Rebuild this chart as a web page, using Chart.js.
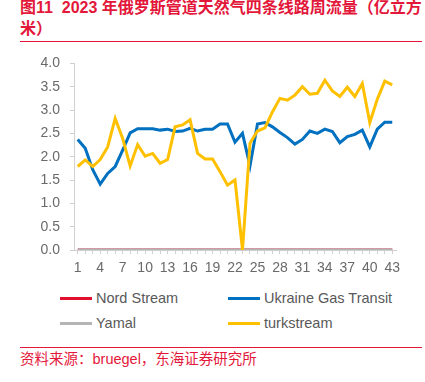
<!DOCTYPE html>
<html>
<head>
<meta charset="utf-8">
<script src="https://cdn.jsdelivr.net/npm/chart.js@4/dist/chart.umd.min.js"></script>
<style>
  html, body { margin:0; padding:0; background:#fff; }
  body { width:425px; height:382px; position:relative; overflow:hidden;
         font-family:"Liberation Sans","Noto Sans CJK SC",sans-serif; }
  #title { position:absolute; left:20px; top:-3px; width:410px; color:#e3173a;
           font-weight:bold; font-size:16px; line-height:21px; white-space:nowrap;
           font-family:"Liberation Sans","Noto Sans CJK SC",sans-serif; }
  #titleRule { position:absolute; left:20px; top:41px; width:402px; height:0;
               border-top:1.5px solid #e3173a; }
  #chartBox { position:absolute; left:0; top:45px; width:425px; height:235px; }
  #legend { position:absolute; left:0; top:0; width:425px; height:0; }
  .lg { position:absolute; font-size:14.5px; color:#595959; line-height:16px; white-space:nowrap; }
  .lg i { position:absolute; top:7px; width:32px; height:3px; }
  .lg span { position:absolute; left:36px; top:0; }
  #srcRule { position:absolute; left:20px; top:347px; width:402px; height:0;
             border-top:1.5px solid #e3173a; }
  #source { position:absolute; left:20px; top:350px; color:#e3173a; font-size:14.5px;
            line-height:18px; white-space:nowrap;
            font-family:"Liberation Sans","Noto Sans CJK SC",sans-serif; }
</style>
</head>
<body>
<div id="title">图11&nbsp;&nbsp;2023 年俄罗斯管道天然气四条线路周流量（亿立方<br>米）</div>
<div id="titleRule"></div>
<div id="chartBox"><canvas id="c"></canvas></div>
<div id="legend"></div>
<div id="srcRule"></div>
<div id="source">资料来源：bruegel，东海证券研究所</div>
<script>
// ---- data ----
const weeks = Array.from({length: 43}, (_, i) => String(i + 1));
const seriesNames = ["Nord Stream", "Ukraine Gas Transit", "Yamal", "turkstream"];
const nordStream = new Array(43).fill(0);
const yamal = new Array(43).fill(0);
const ukraine = [2.37, 2.18, 1.72, 1.41, 1.64, 1.79, 2.14, 2.51, 2.60, 2.60,
                 2.60, 2.57, 2.59, 2.54, 2.55, 2.61, 2.55, 2.59, 2.59, 2.70,
                 2.70, 2.31, 2.50, 1.80, 2.70, 2.73, 2.64, 2.52, 2.41, 2.27,
                 2.37, 2.55, 2.50, 2.59, 2.54, 2.30, 2.43, 2.48, 2.57, 2.21,
                 2.59, 2.74, 2.74];
const turkstream = [1.79, 1.93, 1.79, 1.94, 2.21, 2.82, 2.39, 1.80, 2.26, 2.01,
                    2.07, 1.86, 1.94, 2.64, 2.68, 2.79, 2.07, 1.95, 1.95, 1.68,
                    1.39, 1.50, 0.00, 2.29, 2.55, 2.62, 2.96, 3.25, 3.21, 3.32,
                    3.50, 3.34, 3.36, 3.64, 3.41, 3.29, 3.49, 3.29, 3.57, 2.73,
                    3.23, 3.62, 3.54];
const yTicks = [0, 0.5, 1.0, 1.5, 2.0, 2.5, 3.0, 3.5, 4.0];
const colors = ["#e0102f", "#0070c0", "#b4b4b4", "#ffc000"];

const values = [nordStream, ukraine, yamal, turkstream];
const orders = [4, 3, 2, 1];

const datasets = seriesNames.map((name, i) => ({
  label: name,
  data: values[i],
  borderColor: colors[i],
  backgroundColor: colors[i],
  borderWidth: 3,
  pointRadius: 0,
  tension: 0,
  order: orders[i]
}));

const gray = "#6a6a6a";
new Chart(document.getElementById("c"), {
  type: "line",
  data: { labels: weeks, datasets },
  options: {
    responsive: true,
    maintainAspectRatio: false,
    animation: false,
    layout: { padding: { top: 0, right: 29, bottom: 0, left: 0 } },
    plugins: { legend: { display: false }, tooltip: { enabled: false } },
    scales: {
      x: {
        offset: true,
        grid: { display: true, drawOnChartArea: false, drawTicks: true, tickLength: 4, color: "#d0d0d0" },
        border: { display: true, color: "#d0d0d0", width: 1 },
        ticks: {
          autoSkip: false, maxRotation: 0, minRotation: 0, padding: 6,
          color: gray, font: { family: "Liberation Sans", size: 14 },
          callback: (v, i) => (i % 3 === 0 ? weeks[i] : "")
        },
        afterFit: s => { s.height = 30; }
      },
      y: {
        min: 0, max: 4,
        afterBuildTicks: s => { s.ticks = yTicks.map(v => ({ value: v })); },
        grid: { display: true, drawOnChartArea: false, drawTicks: true, tickLength: 4, color: "#d0d0d0" },
        border: { display: true, color: "#d0d0d0", width: 1 },
        ticks: {
          padding: 10, color: gray, font: { family: "Liberation Sans", size: 14 },
          callback: v => Number(v).toFixed(1)
        },
        afterFit: s => { s.width = 74; }
      }
    }
  }
});

// HTML legend built from the series definitions
const legendPos = [[60, 290], [228, 290], [60, 315], [228, 315]];
const lg = document.getElementById("legend");
seriesNames.forEach((name, i) => {
  const d = document.createElement("div");
  d.className = "lg";
  d.style.left = legendPos[i][0] + "px";
  d.style.top = legendPos[i][1] + "px";
  const mark = document.createElement("i");
  mark.style.background = colors[i];
  const t = document.createElement("span");
  t.textContent = name;
  d.appendChild(mark); d.appendChild(t);
  lg.appendChild(d);
});
</script>
</body>
</html>
